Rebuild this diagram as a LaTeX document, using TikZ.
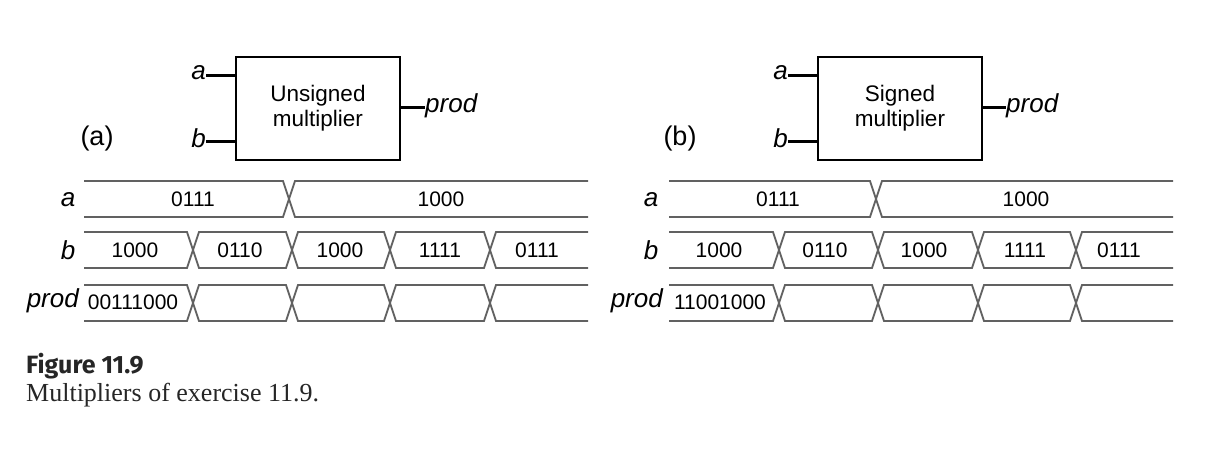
\documentclass[tikz,border=0pt]{standalone}
\usepackage{fontspec}
\setmainfont{Liberation Sans}
\newfontfamily\capserif{Liberation Serif}
\newfontfamily\capsans{Fira Sans}
\newcommand{\busline}[4]{% y, ymid, x0, x1 ; crossings in \crosslist
  \draw[bus] (#3,#1) \foreach \c in \crosslist { -- (\c-6,#1) -- (\c,#2) -- (\c+6,#1) } -- (#4,#1);
}
\newcommand{\busrow}[5]{% ytop, ybot, x0, x1, crossings
  \def\crosslist{#5}%
  \pgfmathsetmacro\ymidv{(#1+#2)/2}%
  \busline{#1}{\ymidv}{#3}{#4}
  \busline{#2}{\ymidv}{#3}{#4}
}
\begin{document}
\begin{tikzpicture}[x=1pt,y=-1pt,
  bus/.style={draw=black!62,line width=1.8pt,line join=miter},
  mult/.style={draw=black,line width=1.2pt,minimum width=164pt,minimum height=103pt,align=center,
    font=\fontsize{22.5}{25}\selectfont,inner sep=0pt},
  pinline/.style={draw=black,line width=3pt},
  sig/.style={font=\fontsize{26}{28}\selectfont\itshape,inner sep=0pt},
  val/.style={font=\fontsize{21}{24}\selectfont,inner sep=0pt},
  tag/.style={font=\fontsize{27}{30}\selectfont,inner sep=0pt},
]
\useasboundingbox (0,0) rectangle (1232,452);

% ---------- (a) block ----------
\node[mult] (ubox) at (318,108.5) {Unsigned\\multiplier};
\node[sig,anchor=east] (ua) at (206,73) {a};
\node[sig,anchor=east] (ub) at (206,138) {b};
\node[sig,anchor=west] (uprod) at (425,106) {prod};
\draw[pinline] (ua.east |- 0,76) -- (ubox.west |- 0,76);
\draw[pinline] (ub.east |- 0,141) -- (ubox.west |- 0,141);
\draw[pinline] (ubox.east |- 0,107) -- (uprod.west |- 0,107);
\node[tag] (ta) at (97,139) {(a)};

% ---------- (a) timing ----------
\busrow{181}{217}{84}{588}{289}
\busrow{232}{268}{84}{588}{193,292,390,490}
\busrow{285}{321}{84}{588}{193,292,390,490}
\node[sig] (la) at (68,200) {a};
\node[sig] (lb) at (68,250) {b};
\node[sig,anchor=east] (lp) at (79,301) {prod};
\node[val] (va1) at (193,199) {0111};
\node[val] (va2) at (441,199) {1000};
\node[val] (vb1) at (135,250) {1000};
\node[val] (vb2) at (240,250) {0110};
\node[val] (vb3) at (340,250) {1000};
\node[val] (vb4) at (440,250) {1111};
\node[val] (vb5) at (537,250) {0111};
\node[val] (vp1) at (133,302) {00111000};

% ---------- (b) block ----------
\node[mult] (sbox) at (900,108.5) {Signed\\multiplier};
\node[sig,anchor=east] (sa) at (788,73) {a};
\node[sig,anchor=east] (sb) at (788,138) {b};
\node[sig,anchor=west] (sprod) at (1006,106) {prod};
\draw[pinline] (sa.east |- 0,76) -- (sbox.west |- 0,76);
\draw[pinline] (sb.east |- 0,141) -- (sbox.west |- 0,141);
\draw[pinline] (sbox.east |- 0,107) -- (sprod.west |- 0,107);
\node[tag] (tb) at (680,139) {(b)};

% ---------- (b) timing ----------
\busrow{181}{217}{669}{1173}{876}
\busrow{232}{268}{669}{1173}{779,878,978,1076}
\busrow{285}{321}{669}{1173}{779,878,978,1076}
\node[sig] (ra) at (651,200) {a};
\node[sig] (rb) at (651,250) {b};
\node[sig,anchor=east] (rp) at (663,301) {prod};
\node[val] (wa1) at (778,199) {0111};
\node[val] (wa2) at (1026,199) {1000};
\node[val] (wb1) at (719,250) {1000};
\node[val] (wb2) at (825,250) {0110};
\node[val] (wb3) at (924,250) {1000};
\node[val] (wb4) at (1025,250) {1111};
\node[val] (wb5) at (1119,250) {0111};
\node[val] (wp1) at (720,302) {11001000};

% ---------- caption ----------
\node[anchor=west,inner sep=0pt,font=\capsans\bfseries\fontsize{25}{28}\selectfont,text=black!85] (fig) at (26,366) {Figure 11.9};
\node[anchor=west,inner sep=0pt,font=\capserif\fontsize{26}{29}\selectfont,text=black!85] (cap) at (26,395) {Multipliers of exercise 11.9.};
\end{tikzpicture}
\end{document}
